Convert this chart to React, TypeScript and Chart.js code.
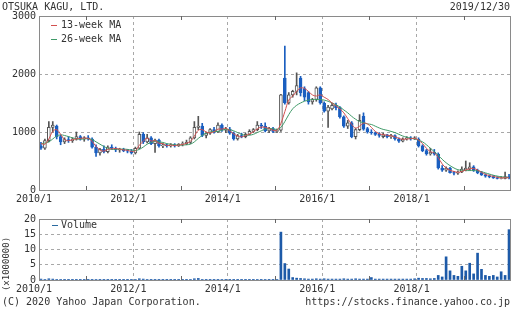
import React, { useEffect, useRef } from 'react';
import { Chart, registerables } from 'chart.js';
Chart.register(...registerables);

// ---- data (monthly candles, 2010/1 .. 2019/12) ----
const startYear = 2010;
const opens = [
  760, 720, 850, 1080, 1100, 920, 830, 870, 850, 880, 920, 880,
  900, 880, 740, 640, 700, 660, 740, 720, 690, 700, 680, 670,
  640, 720, 960, 830, 900, 800, 860, 760, 780, 760, 780, 760,
  790, 800, 820, 900, 1080, 1100, 940, 980, 1040, 1000, 1120, 1030,
  1050, 980, 880, 940, 920, 960, 1010, 1040, 1120, 1100, 1020, 1060,
  1010, 1030, 1930, 1500, 1640, 1700, 1930, 1750, 1680, 1520, 1560, 1760,
  1500, 1360, 1400, 1460, 1420, 1260, 1100, 1160, 920, 1040, 1270, 1060,
  1000, 990, 960, 920, 950, 920, 940, 880, 840, 880, 900, 880,
  880, 760, 680, 620, 650, 620, 380, 340, 380, 300, 290, 310,
  340, 360, 400, 340, 300, 260, 240, 230, 210, 200, 200, 230,
];
const highs = [
  820, 880, 1180, 1180, 1120, 950, 900, 920, 900, 1000, 940, 920,
  940, 900, 780, 720, 760, 760, 780, 740, 720, 720, 700, 700,
  740, 1000, 990, 960, 920, 880, 880, 800, 790, 800, 800, 800,
  830, 860, 920, 1180, 1270, 1150, 1000, 1060, 1080, 1160, 1140, 1080,
  1080, 1000, 960, 980, 980, 1040, 1060, 1180, 1150, 1160, 1080, 1080,
  1050, 1650, 2480, 1680, 1720, 2020, 1960, 1780, 1700, 1580, 1780, 1780,
  1520, 1460, 1500, 1500, 1440, 1280, 1200, 1180, 1060, 1300, 1330, 1080,
  1040, 1000, 990, 980, 960, 960, 950, 900, 900, 920, 920, 920,
  900, 780, 700, 720, 700, 640, 420, 400, 390, 320, 330, 400,
  500, 470, 420, 360, 320, 280, 260, 250, 230, 230, 310, 270,
];
const lows = [
  700, 700, 830, 1000, 880, 780, 800, 820, 820, 860, 860, 840,
  860, 720, 580, 600, 640, 640, 700, 660, 650, 660, 640, 620,
  620, 710, 800, 810, 780, 650, 740, 730, 740, 740, 740, 750,
  760, 780, 800, 880, 1040, 920, 900, 960, 980, 990, 1010, 990,
  960, 860, 860, 900, 900, 950, 990, 1020, 1060, 1000, 990, 990,
  990, 1010, 1480, 1480, 1600, 1640, 1620, 1540, 1480, 1480, 1530, 1480,
  1340, 1080, 1380, 1380, 1240, 1080, 1060, 900, 880, 1020, 1030, 980,
  960, 940, 910, 900, 900, 890, 860, 820, 830, 860, 860, 870,
  740, 660, 600, 600, 600, 360, 320, 320, 290, 260, 270, 300,
  330, 340, 320, 280, 250, 220, 210, 200, 190, 190, 190, 190,
];
const closes = [
  720, 850, 1080, 1120, 920, 830, 870, 850, 880, 920, 880, 900,
  880, 740, 640, 700, 660, 740, 720, 690, 700, 680, 670, 640,
  720, 960, 830, 900, 800, 860, 760, 780, 760, 780, 760, 790,
  800, 820, 900, 1080, 1100, 940, 980, 1040, 1000, 1120, 1030, 1050,
  980, 880, 940, 920, 960, 1010, 1040, 1120, 1100, 1020, 1060, 1010,
  1030, 1640, 1500, 1640, 1700, 1800, 1680, 1600, 1520, 1560, 1760, 1500,
  1360, 1430, 1460, 1420, 1260, 1100, 1160, 920, 1040, 1200, 1050, 1000,
  990, 960, 940, 950, 920, 940, 880, 840, 880, 900, 880, 900,
  760, 680, 620, 650, 620, 380, 340, 380, 300, 290, 310, 360,
  380, 400, 340, 300, 260, 240, 230, 210, 200, 210, 230, 210,
];
const ma13 = [
  800, 790, 880, 1010, 1040, 960, 870, 850, 865, 880, 890, 895,
  890, 840, 750, 690, 670, 700, 710, 715, 705, 690, 685, 665,
  675, 770, 840, 895, 845, 850, 805, 800, 765, 775, 765, 775,
  785, 805, 840, 930, 1030, 1040, 1000, 985, 1005, 1050, 1050, 1065,
  1020, 970, 930, 915, 940, 965, 1005, 1055, 1085, 1080, 1060, 1030,
  1030, 1150, 1350, 1550, 1620, 1700, 1760, 1750, 1700, 1640, 1620, 1640,
  1600, 1560, 1500, 1450, 1400, 1330, 1230, 1130, 1070, 1100, 1150, 1140,
  1080, 1010, 970, 955, 945, 935, 915, 890, 875, 880, 885, 890,
  860, 800, 720, 660, 640, 560, 450, 380, 340, 320, 305, 320,
  345, 365, 370, 345, 305, 270, 250, 235, 220, 210, 210, 212,
];
const ma26 = [
  800, 810, 830, 880, 930, 950, 940, 920, 900, 880, 875, 880,
  885, 870, 830, 790, 750, 720, 700, 700, 705, 705, 700, 690,
  680, 700, 740, 790, 820, 840, 830, 820, 800, 790, 780, 775,
  775, 780, 790, 830, 890, 940, 980, 1000, 1010, 1010, 1030, 1045,
  1040, 1020, 990, 960, 945, 945, 960, 990, 1020, 1050, 1060, 1055,
  1045, 1080, 1180, 1300, 1400, 1460, 1500, 1530, 1550, 1560, 1560, 1560,
  1550, 1530, 1500, 1470, 1430, 1380, 1330, 1270, 1220, 1180, 1160, 1140,
  1130, 1100, 1070, 1045, 1030, 1010, 990, 960, 930, 910, 895, 880,
  860, 830, 780, 720, 660, 600, 530, 470, 420, 380, 350, 340,
  335, 335, 335, 330, 315, 295, 275, 255, 240, 228, 220, 215,
];
const volumes = [
  0.3, 0.2, 0.4, 0.3, 0.2, 0.2, 0.1, 0.1, 0.1, 0.1, 0.1, 0.1,
  0.1, 0.1, 0.2, 0.1, 0.1, 0.1, 0.1, 0.1, 0.1, 0.1, 0.1, 0.1,
  0.2, 0.4, 0.3, 0.2, 0.1, 0.1, 0.1, 0.1, 0.1, 0.1, 0.1, 0.1,
  0.1, 0.1, 0.2, 0.4, 0.5, 0.2, 0.1, 0.1, 0.1, 0.1, 0.2, 0.1,
  0.1, 0.1, 0.1, 0.1, 0.1, 0.1, 0.1, 0.2, 0.1, 0.2, 0.1, 0.1,
  0.2, 15.7, 5.4, 3.6, 0.8, 0.6, 0.5, 0.4, 0.3, 0.3, 0.4, 0.3,
  0.4, 0.3, 0.3, 0.3, 0.3, 0.4, 0.3, 0.3, 0.4, 0.3, 0.3, 0.3,
  0.8, 0.3, 0.3, 0.3, 0.3, 0.3, 0.3, 0.3, 0.3, 0.3, 0.3, 0.4,
  0.6, 0.5, 0.5, 0.4, 0.5, 1.5, 1.0, 7.6, 3.0, 1.5, 1.2, 4.5,
  3.0, 5.5, 2.0, 8.8, 3.5, 1.5, 1.2, 1.5, 1.0, 2.7, 1.5, 16.5,
];
const yearTicks = [2010, 2012, 2014, 2016, 2018];
const minorTickYears = [2011, 2013, 2015, 2017, 2019];
const priceTicks = [0, 1000, 2000, 3000];
const volumeTicks = [0, 5, 10, 15, 20];

const FONT = "'DejaVu Sans Mono', monospace";
const BLUE = '#1b5fc0';
const VOL_BLUE = '#1d5aa8';
const UP_EDGE = '#555555';
const RED = '#d2504f';
const GREEN = '#3f9a68';
const GRID = '#a8a8a8';
const TEXT = '#333333';

const monthX = opens.map((_, i) => startYear + (i + 0.5) / 12);

const framePlugin = {
  id: 'frame',
  afterDatasetsDraw(chart: any) {
    const { ctx, chartArea } = chart;
    const left = Math.round(chartArea.left);
    const top = Math.round(chartArea.top);
    const right = Math.round(chartArea.right);
    const bottom = Math.round(chartArea.bottom);
    ctx.save();
    ctx.strokeStyle = '#8a8a8a';
    ctx.lineWidth = 1;
    ctx.setLineDash([]);
    ctx.strokeRect(left + 0.5, top + 0.5, right - left - 1, bottom - top);
    const xs = chart.scales.x;
    ctx.strokeStyle = '#666';
    minorTickYears.forEach((yr) => {
      const px = Math.round(xs.getPixelForValue(yr)) + 0.5;
      ctx.beginPath();
      ctx.moveTo(px, top);
      ctx.lineTo(px, top + 4);
      ctx.moveTo(px, bottom);
      ctx.lineTo(px, bottom - 4);
      ctx.stroke();
    });
    ctx.restore();
  },
};

function xScale(height: number) {
  return {
    type: 'linear',
    min: 2010,
    max: 2020,
    offset: false,
    afterBuildTicks: (s: any) => {
      s.ticks = yearTicks.map((v) => ({ value: v }));
    },
    afterFit: (s: any) => {
      s.height = height;
    },
    ticks: {
      callback: (v: any) => `${v}/1`,
      font: { family: FONT, size: 10 },
      color: TEXT,
      padding: 3,
      labelOffset: -5,
      autoSkip: false,
      maxRotation: 0,
    },
    grid: { color: GRID, drawTicks: false, lineWidth: 1, offset: false },
    border: { display: false, dash: [3, 3] },
  };
}

function yScale(max: number, ticksList: number[]) {
  return {
    type: 'linear',
    min: 0,
    max,
    afterBuildTicks: (s: any) => {
      s.ticks = ticksList.map((v) => ({ value: v }));
    },
    afterFit: (s: any) => {
      s.width = 39;
    },
    ticks: {
      callback: (v: any) => String(v),
      font: { family: FONT, size: 10 },
      color: TEXT,
      padding: 3,
    },
    grid: { color: GRID, drawTicks: false, lineWidth: 1 },
    border: { display: false, dash: [3, 3] },
  };
}

export default function App() {
  const priceRef = useRef<HTMLCanvasElement>(null);
  const volRef = useRef<HTMLCanvasElement>(null);

  useEffect(() => {
    const up = closes.map((c, i) => c >= opens[i]);
    const price = new Chart(priceRef.current as HTMLCanvasElement, {
      type: 'bar',
      data: {
        datasets: [
          {
            type: 'line',
            label: '13-week MA',
            data: monthX.map((x, i) => ({ x, y: ma13[i] })),
            borderColor: RED,
            borderWidth: 1,
            pointRadius: 0,
            tension: 0.4,
            order: 1,
          } as any,
          {
            type: 'line',
            label: '26-week MA',
            data: monthX.map((x, i) => ({ x, y: ma26[i] })),
            borderColor: GREEN,
            borderWidth: 1,
            pointRadius: 0,
            tension: 0.4,
            order: 2,
          } as any,
          {
            type: 'bar',
            label: 'body',
            data: monthX.map((x, i) => ({ x, y: [opens[i], closes[i]] })),
            backgroundColor: up.map((u) => (u ? '#ffffff' : BLUE)),
            borderColor: up.map((u) => (u ? UP_EDGE : BLUE)),
            borderWidth: 1,
            borderSkipped: false,
            barThickness: 3,
            grouped: false,
            order: 3,
          } as any,
          {
            type: 'bar',
            label: 'wick',
            data: monthX.map((x, i) => ({ x, y: [lows[i], highs[i]] })),
            backgroundColor: up.map((u) => (u ? UP_EDGE : BLUE)),
            borderWidth: 0,
            barThickness: 1,
            grouped: false,
            order: 4,
          } as any,
        ],
      },
      options: {
        responsive: false,
        animation: false,
        devicePixelRatio: 1,
        layout: { padding: { top: 16, right: 1, left: 0, bottom: 0 } },
        plugins: { legend: { display: false }, tooltip: { enabled: false } },
        scales: {
          x: xScale(20) as any,
          y: yScale(3000, priceTicks) as any,
        },
      },
      plugins: [framePlugin],
    });

    const vol = new Chart(volRef.current as HTMLCanvasElement, {
      type: 'bar',
      data: {
        datasets: [
          {
            label: 'Volume',
            data: monthX.map((x, i) => ({ x, y: volumes[i] })),
            backgroundColor: VOL_BLUE,
            borderWidth: 0,
            barThickness: 2,
          } as any,
        ],
      },
      options: {
        responsive: false,
        animation: false,
        devicePixelRatio: 1,
        layout: { padding: { top: 4, right: 1, left: 0, bottom: 0 } },
        plugins: { legend: { display: false }, tooltip: { enabled: false } },
        scales: {
          x: xScale(30) as any,
          y: yScale(20, volumeTicks) as any,
        },
      },
      plugins: [framePlugin],
    });

    return () => {
      price.destroy();
      vol.destroy();
    };
  }, []);

  const txt: React.CSSProperties = {
    position: 'absolute',
    fontFamily: FONT,
    fontSize: 10,
    lineHeight: '12px',
    color: TEXT,
    whiteSpace: 'nowrap',
  };
  const dash = (color: string, left: number, top: number): React.CSSProperties => ({
    position: 'absolute',
    left,
    top,
    width: 6,
    height: 0,
    borderTop: `1px solid ${color}`,
  });

  return (
    <div
      style={{
        position: 'absolute',
        left: 0,
        top: 0,
        width: 512,
        height: 310,
        background: '#fff',
        overflow: 'hidden',
      }}
    >
      <canvas
        ref={priceRef}
        width={512}
        height={210}
        style={{ position: 'absolute', left: 0, top: 0, width: 512, height: 210 }}
      />
      <canvas
        ref={volRef}
        width={512}
        height={100}
        style={{ position: 'absolute', left: 0, top: 210, width: 512, height: 100 }}
      />
      <div style={{ ...txt, left: 2, top: 1 }}>OTSUKA KAGU, LTD.</div>
      <div style={{ ...txt, right: 2, top: 1 }}>2019/12/30</div>

      <div style={dash(RED, 51, 25)} />
      <div style={{ ...txt, left: 61, top: 19 }}>13-week MA</div>
      <div style={dash(GREEN, 51, 39)} />
      <div style={{ ...txt, left: 61, top: 33 }}>26-week MA</div>

      <div style={dash('#2a6aa0', 52, 225)} />
      <div style={{ ...txt, left: 61, top: 219 }}>Volume</div>

      <div
        style={{
          ...txt,
          fontSize: 9,
          lineHeight: '10px',
          left: 6,
          top: 264,
          transform: 'translate(-50%, -50%) rotate(-90deg)',
        }}
      >
        (x1000000)
      </div>

      <div style={{ ...txt, left: 2, top: 296 }}>(C) 2020 Yahoo Japan Corporation.</div>
      <div style={{ ...txt, right: 2, top: 296 }}>https://stocks.finance.yahoo.co.jp</div>
    </div>
  );
}
